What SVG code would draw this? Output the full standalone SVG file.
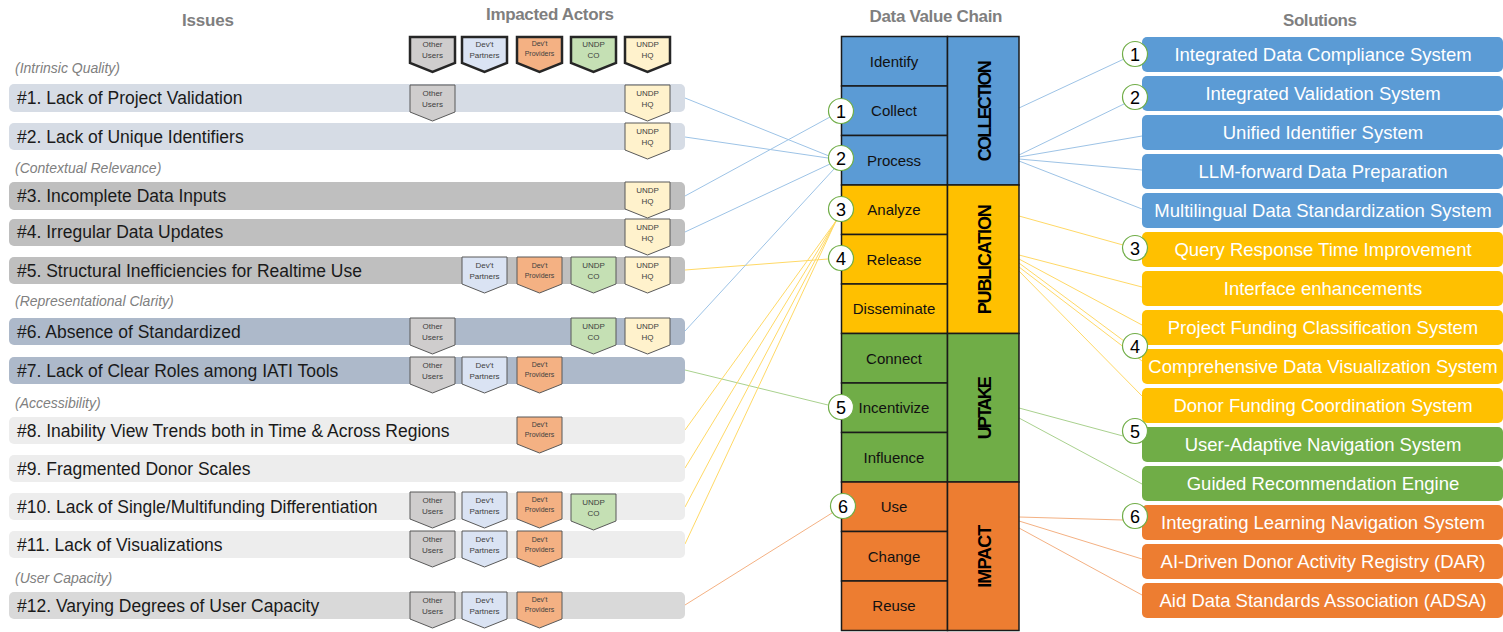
<svg xmlns="http://www.w3.org/2000/svg" width="1503" height="632" viewBox="0 0 1503 632">
<defs>
<style>
.hdr{font-family:"Liberation Sans",Arial,sans-serif;font-weight:bold;font-size:17px;fill:#7f7f7f;text-anchor:middle}
.cat{font-family:"Liberation Sans",Arial,sans-serif;font-style:italic;font-size:14px;fill:#808080}
.itx{font-family:"Liberation Sans",Arial,sans-serif;font-size:17.5px;fill:#1a1a1a}
.bt{font-family:"Liberation Sans",Arial,sans-serif;font-size:8px;fill:#404040;text-anchor:middle}
.bts{font-family:"Liberation Sans",Arial,sans-serif;font-size:7px;fill:#404040;text-anchor:middle}
.bdg{stroke:#595959;stroke-width:1}
.lg{stroke:#262626;stroke-width:2.5}
.o{fill:#cfcdcd}.p{fill:#dae3f3}.pr{fill:#f4b183}.co{fill:#c5e0b4}.hq{fill:#fff2cc}
.step{stroke:#1a1a1a;stroke-width:1.5}
.stx{font-family:"Liberation Sans",Arial,sans-serif;font-size:15px;fill:#111;text-anchor:middle}
.ph{font-family:"Liberation Sans",Arial,sans-serif;font-weight:bold;font-size:18px;fill:#000;text-anchor:middle}
.num{fill:#fff;stroke:#70ad47;stroke-width:1.2}
.ntx{font-family:"Liberation Sans",Arial,sans-serif;font-size:18px;fill:#000;text-anchor:middle}
.sol{font-family:"Liberation Sans",Arial,sans-serif;font-size:18.5px;fill:#fff;text-anchor:middle}
.cb{stroke:#9dc3e6;stroke-width:1;fill:none}
.cy{stroke:#ffd966;stroke-width:1;fill:none}
.cg{stroke:#a9d18e;stroke-width:1;fill:none}
.cr{stroke:#f4b183;stroke-width:1;fill:none}
</style>
<path id="bd" d="M0,0 h45 v27 l-22.5,9 l-22.5,-9 z"/>
<path id="bdl" d="M0,0 h45 v26 l-22.5,9 l-22.5,-9 z"/>
</defs>

<!-- headers -->
<text class="hdr" x="208" y="26" textLength="52">Issues</text>
<text class="hdr" x="550" y="20" textLength="128">Impacted Actors</text>
<text class="hdr" x="936" y="22" textLength="133">Data Value Chain</text>
<text class="hdr" x="1320" y="26" textLength="74">Solutions</text>

<!-- legend -->
<g id="legend">
<use href="#bdl" x="410" y="37" class="o lg"/><text class="bt" x="432.5" y="47">Other</text><text class="bt" x="432.5" y="58">Users</text>
<use href="#bdl" x="462" y="37" class="p lg"/><text class="bt" x="484.5" y="47">Dev't</text><text class="bt" x="484.5" y="58">Partners</text>
<use href="#bdl" x="517" y="37" class="pr lg"/><text class="bts" x="539.5" y="46">Dev't</text><text class="bts" x="539.5" y="56">Providers</text>
<use href="#bdl" x="571" y="37" class="co lg"/><text class="bt" x="593.5" y="47">UNDP</text><text class="bt" x="593.5" y="58">CO</text>
<use href="#bdl" x="625" y="37" class="hq lg"/><text class="bt" x="647.5" y="47">UNDP</text><text class="bt" x="647.5" y="58">HQ</text>
</g>

<!-- category labels -->
<text class="cat" x="15" y="73">(Intrinsic Quality)</text>
<text class="cat" x="15" y="173">(Contextual Relevance)</text>
<text class="cat" x="15" y="306">(Representational Clarity)</text>
<text class="cat" x="15" y="408">(Accessibility)</text>
<text class="cat" x="15" y="583">(User Capacity)</text>

<!-- connectors -->
<g id="connectors">
<line class="cb" x1="685" y1="98" x2="829" y2="156"/>
<line class="cb" x1="685" y1="137" x2="828" y2="158"/>
<line class="cb" x1="685" y1="196" x2="830" y2="117"/>
<line class="cb" x1="685" y1="232" x2="830" y2="164"/>
<line class="cy" x1="685" y1="270" x2="828" y2="259"/>
<line class="cb" x1="685" y1="331" x2="834" y2="169"/>
<line class="cg" x1="685" y1="370" x2="828" y2="405"/>
<line class="cy" x1="685" y1="430" x2="836" y2="221"/>
<line class="cy" x1="685" y1="468" x2="836" y2="221"/>
<line class="cy" x1="685" y1="507" x2="836" y2="221"/>
<line class="cy" x1="685" y1="544" x2="836" y2="221"/>
<line class="cr" x1="685" y1="605" x2="832" y2="513"/>

<line class="cb" x1="1019" y1="108" x2="1124" y2="59"/>
<line class="cb" x1="1019" y1="155" x2="1126" y2="103"/>
<line class="cb" x1="1019" y1="157" x2="1142" y2="136"/>
<line class="cb" x1="1019" y1="159" x2="1142" y2="170"/>
<line class="cb" x1="1019" y1="161" x2="1142" y2="209"/>
<line class="cy" x1="1019" y1="216" x2="1123" y2="245"/>
<line class="cy" x1="1019" y1="255" x2="1142" y2="287"/>
<line class="cy" x1="1019" y1="259" x2="1142" y2="325"/>
<line class="cy" x1="1019" y1="263" x2="1124" y2="341"/>
<line class="cy" x1="1019" y1="267" x2="1142" y2="361"/>
<line class="cy" x1="1019" y1="271" x2="1142" y2="396"/>
<line class="cg" x1="1019" y1="408" x2="1123" y2="436"/>
<line class="cg" x1="1019" y1="418" x2="1142" y2="484"/>
<line class="cr" x1="1019" y1="517" x2="1123" y2="520"/>
<line class="cr" x1="1019" y1="521" x2="1142" y2="559"/>
<line class="cr" x1="1019" y1="528" x2="1142" y2="595"/>
</g>

<!-- issues -->
<g id="issue1"><rect x="9" y="84" width="676" height="28" rx="5" fill="#d6dce5"/><text class="itx" x="17" y="104">#1. Lack of Project Validation</text>
<use href="#bd" x="410" y="85" class="o bdg"/><text class="bt" x="432.5" y="96">Other</text><text class="bt" x="432.5" y="107">Users</text>
<use href="#bd" x="625" y="85" class="hq bdg"/><text class="bt" x="647.5" y="96">UNDP</text><text class="bt" x="647.5" y="107">HQ</text></g>

<g id="issue2"><rect x="9" y="123" width="676" height="27" rx="5" fill="#d6dce5"/><text class="itx" x="17" y="143">#2. Lack of Unique Identifiers</text>
<use href="#bd" x="625" y="123" class="hq bdg"/><text class="bt" x="647.5" y="134">UNDP</text><text class="bt" x="647.5" y="145">HQ</text></g>

<g id="issue3"><rect x="9" y="182" width="676" height="28" rx="5" fill="#bfbfbf"/><text class="itx" x="17" y="202">#3. Incomplete Data Inputs</text>
<use href="#bd" x="625" y="182" class="hq bdg"/><text class="bt" x="647.5" y="193">UNDP</text><text class="bt" x="647.5" y="204">HQ</text></g>

<g id="issue4"><rect x="9" y="219" width="676" height="27" rx="5" fill="#bfbfbf"/><text class="itx" x="17" y="238">#4. Irregular Data Updates</text>
<use href="#bd" x="625" y="219" class="hq bdg"/><text class="bt" x="647.5" y="230">UNDP</text><text class="bt" x="647.5" y="241">HQ</text></g>

<g id="issue5"><rect x="9" y="257" width="676" height="27" rx="5" fill="#bfbfbf"/><text class="itx" x="17" y="277">#5. Structural Inefficiencies for Realtime Use</text>
<use href="#bd" x="462" y="257" class="p bdg"/><text class="bt" x="484.5" y="268">Dev't</text><text class="bt" x="484.5" y="279">Partners</text>
<use href="#bd" x="517" y="257" class="pr bdg"/><text class="bts" x="539.5" y="268">Dev't</text><text class="bts" x="539.5" y="278">Providers</text>
<use href="#bd" x="571" y="257" class="co bdg"/><text class="bt" x="593.5" y="268">UNDP</text><text class="bt" x="593.5" y="279">CO</text>
<use href="#bd" x="625" y="257" class="hq bdg"/><text class="bt" x="647.5" y="268">UNDP</text><text class="bt" x="647.5" y="279">HQ</text></g>

<g id="issue6"><rect x="9" y="318" width="676" height="27" rx="5" fill="#adb9ca"/><text class="itx" x="17" y="338">#6. Absence of Standardized</text>
<use href="#bd" x="410" y="318" class="o bdg"/><text class="bt" x="432.5" y="329">Other</text><text class="bt" x="432.5" y="340">Users</text>
<use href="#bd" x="571" y="318" class="co bdg"/><text class="bt" x="593.5" y="329">UNDP</text><text class="bt" x="593.5" y="340">CO</text>
<use href="#bd" x="625" y="318" class="hq bdg"/><text class="bt" x="647.5" y="329">UNDP</text><text class="bt" x="647.5" y="340">HQ</text></g>

<g id="issue7"><rect x="9" y="357" width="676" height="27" rx="5" fill="#adb9ca"/><text class="itx" x="17" y="377">#7. Lack of Clear Roles among IATI Tools</text>
<use href="#bd" x="410" y="357" class="o bdg"/><text class="bt" x="432.5" y="368">Other</text><text class="bt" x="432.5" y="379">Users</text>
<use href="#bd" x="462" y="357" class="p bdg"/><text class="bt" x="484.5" y="368">Dev't</text><text class="bt" x="484.5" y="379">Partners</text>
<use href="#bd" x="517" y="357" class="pr bdg"/><text class="bts" x="539.5" y="367">Dev't</text><text class="bts" x="539.5" y="377">Providers</text></g>

<g id="issue8"><rect x="9" y="417" width="676" height="27" rx="5" fill="#ededed"/><text class="itx" x="17" y="437">#8. Inability View Trends both in Time &amp; Across Regions</text>
<use href="#bd" x="517" y="417" class="pr bdg"/><text class="bts" x="539.5" y="427">Dev't</text><text class="bts" x="539.5" y="437">Providers</text></g>

<g id="issue9"><rect x="9" y="455" width="676" height="27" rx="5" fill="#ededed"/><text class="itx" x="17" y="475">#9. Fragmented Donor Scales</text></g>

<g id="issue10"><rect x="9" y="493" width="676" height="27" rx="5" fill="#ededed"/><text class="itx" x="17" y="513">#10. Lack of Single/Multifunding Differentiation</text>
<use href="#bd" x="410" y="492" class="o bdg"/><text class="bt" x="432.5" y="503">Other</text><text class="bt" x="432.5" y="514">Users</text>
<use href="#bd" x="462" y="492" class="p bdg"/><text class="bt" x="484.5" y="503">Dev't</text><text class="bt" x="484.5" y="514">Partners</text>
<use href="#bd" x="517" y="492" class="pr bdg"/><text class="bts" x="539.5" y="502">Dev't</text><text class="bts" x="539.5" y="512">Providers</text>
<use href="#bd" x="571" y="494" class="co bdg"/><text class="bt" x="593.5" y="505">UNDP</text><text class="bt" x="593.5" y="516">CO</text></g>

<g id="issue11"><rect x="9" y="531" width="676" height="27" rx="5" fill="#ededed"/><text class="itx" x="17" y="551">#11. Lack of Visualizations</text>
<use href="#bd" x="410" y="531" class="o bdg"/><text class="bt" x="432.5" y="542">Other</text><text class="bt" x="432.5" y="553">Users</text>
<use href="#bd" x="462" y="531" class="p bdg"/><text class="bt" x="484.5" y="542">Dev't</text><text class="bt" x="484.5" y="553">Partners</text>
<use href="#bd" x="517" y="531" class="pr bdg"/><text class="bts" x="539.5" y="542">Dev't</text><text class="bts" x="539.5" y="552">Providers</text></g>

<g id="issue12"><rect x="9" y="592" width="676" height="27" rx="5" fill="#d9d9d9"/><text class="itx" x="17" y="612">#12. Varying Degrees of User Capacity</text>
<use href="#bd" x="410" y="592" class="o bdg"/><text class="bt" x="432.5" y="603">Other</text><text class="bt" x="432.5" y="614">Users</text>
<use href="#bd" x="462" y="592" class="p bdg"/><text class="bt" x="484.5" y="603">Dev't</text><text class="bt" x="484.5" y="614">Partners</text>
<use href="#bd" x="517" y="592" class="pr bdg"/><text class="bts" x="539.5" y="602">Dev't</text><text class="bts" x="539.5" y="612">Providers</text></g>

<!-- data value chain -->
<g id="chain">
<rect class="step" x="841.5" y="36.5" width="106" height="49.5" fill="#5b9bd5"/><text class="stx" x="894" y="66.5">Identify</text>
<rect class="step" x="841.5" y="86" width="106" height="49.5" fill="#5b9bd5"/><text class="stx" x="894" y="116">Collect</text>
<rect class="step" x="841.5" y="135.5" width="106" height="49.5" fill="#5b9bd5"/><text class="stx" x="894" y="165.5">Process</text>
<rect class="step" x="841.5" y="185" width="106" height="49.5" fill="#ffc000"/><text class="stx" x="894" y="215">Analyze</text>
<rect class="step" x="841.5" y="234.5" width="106" height="49.5" fill="#ffc000"/><text class="stx" x="894" y="264.5">Release</text>
<rect class="step" x="841.5" y="284" width="106" height="49.5" fill="#ffc000"/><text class="stx" x="894" y="314">Disseminate</text>
<rect class="step" x="841.5" y="333.5" width="106" height="49.5" fill="#70ad47"/><text class="stx" x="894" y="363.5">Connect</text>
<rect class="step" x="841.5" y="383" width="106" height="49.5" fill="#70ad47"/><text class="stx" x="894" y="413">Incentivize</text>
<rect class="step" x="841.5" y="432.5" width="106" height="49.5" fill="#70ad47"/><text class="stx" x="894" y="462.5">Influence</text>
<rect class="step" x="841.5" y="482" width="106" height="49.5" fill="#ed7d31"/><text class="stx" x="894" y="512">Use</text>
<rect class="step" x="841.5" y="531.5" width="106" height="49.5" fill="#ed7d31"/><text class="stx" x="894" y="561.5">Change</text>
<rect class="step" x="841.5" y="581" width="106" height="49.5" fill="#ed7d31"/><text class="stx" x="894" y="611">Reuse</text>
<rect class="step" x="947.5" y="36.5" width="71.5" height="148.5" fill="#5b9bd5"/>
<rect class="step" x="947.5" y="185" width="71.5" height="148.5" fill="#ffc000"/>
<rect class="step" x="947.5" y="333.5" width="71.5" height="148.5" fill="#70ad47"/>
<rect class="step" x="947.5" y="482" width="71.5" height="148.5" fill="#ed7d31"/>
<text class="ph" transform="translate(991,110.75) rotate(-90)" textLength="101">COLLECTION</text>
<text class="ph" transform="translate(991,259.25) rotate(-90)" textLength="110">PUBLICATION</text>
<text class="ph" transform="translate(991,407.75) rotate(-90)" textLength="63">UPTAKE</text>
<text class="ph" transform="translate(991,556.25) rotate(-90)" textLength="63">IMPACT</text>
</g>

<!-- chain number circles -->
<g id="chain-nums">
<circle class="num" cx="841" cy="111" r="12.5"/><text class="ntx" x="841" y="117.5">1</text>
<circle class="num" cx="841" cy="158" r="12.5"/><text class="ntx" x="841" y="164.5">2</text>
<circle class="num" cx="841" cy="209" r="12.5"/><text class="ntx" x="841" y="215.5">3</text>
<circle class="num" cx="841" cy="258" r="12.5"/><text class="ntx" x="841" y="264.5">4</text>
<circle class="num" cx="841" cy="407" r="12.5"/><text class="ntx" x="841" y="413.5">5</text>
<circle class="num" cx="843" cy="506" r="12.5"/><text class="ntx" x="843" y="512.5">6</text>
</g>

<!-- solutions -->
<g id="solutions">
<rect x="1142" y="37" width="361" height="35" rx="5" fill="#5b9bd5"/><text class="sol" x="1323" y="61">Integrated Data Compliance System</text>
<rect x="1142" y="76" width="361" height="35" rx="5" fill="#5b9bd5"/><text class="sol" x="1323" y="100">Integrated Validation System</text>
<rect x="1142" y="115" width="361" height="35" rx="5" fill="#5b9bd5"/><text class="sol" x="1323" y="139">Unified Identifier System</text>
<rect x="1142" y="154" width="361" height="35" rx="5" fill="#5b9bd5"/><text class="sol" x="1323" y="178">LLM-forward Data Preparation</text>
<rect x="1142" y="193" width="361" height="35" rx="5" fill="#5b9bd5"/><text class="sol" x="1323" y="217">Multilingual Data Standardization System</text>
<rect x="1142" y="232" width="361" height="35" rx="5" fill="#ffc000"/><text class="sol" x="1323" y="256">Query Response Time Improvement</text>
<rect x="1142" y="271" width="361" height="35" rx="5" fill="#ffc000"/><text class="sol" x="1323" y="295">Interface enhancements</text>
<rect x="1142" y="310" width="361" height="35" rx="5" fill="#ffc000"/><text class="sol" x="1323" y="334">Project Funding Classification System</text>
<rect x="1142" y="349" width="361" height="35" rx="5" fill="#ffc000"/><text class="sol" x="1323" y="373">Comprehensive Data Visualization System</text>
<rect x="1142" y="388" width="361" height="35" rx="5" fill="#ffc000"/><text class="sol" x="1323" y="412">Donor Funding Coordination System</text>
<rect x="1142" y="427" width="361" height="35" rx="5" fill="#70ad47"/><text class="sol" x="1323" y="451">User-Adaptive Navigation System</text>
<rect x="1142" y="466" width="361" height="35" rx="5" fill="#70ad47"/><text class="sol" x="1323" y="490">Guided Recommendation Engine</text>
<rect x="1142" y="505" width="361" height="35" rx="5" fill="#ed7d31"/><text class="sol" x="1323" y="529">Integrating Learning Navigation System</text>
<rect x="1142" y="544" width="361" height="35" rx="5" fill="#ed7d31"/><text class="sol" x="1323" y="568">AI-Driven Donor Activity Registry (DAR)</text>
<rect x="1142" y="583" width="361" height="35" rx="5" fill="#ed7d31"/><text class="sol" x="1323" y="607">Aid Data Standards Association (ADSA)</text>
</g>

<g id="solution-nums">
<circle class="num" cx="1135" cy="54" r="12.5"/><text class="ntx" x="1135" y="60.5">1</text>
<circle class="num" cx="1135" cy="97" r="12.5"/><text class="ntx" x="1135" y="103.5">2</text>
<circle class="num" cx="1135" cy="248" r="12.5"/><text class="ntx" x="1135" y="254.5">3</text>
<circle class="num" cx="1135" cy="346" r="12.5"/><text class="ntx" x="1135" y="352.5">4</text>
<circle class="num" cx="1135" cy="431" r="12.5"/><text class="ntx" x="1135" y="437.5">5</text>
<circle class="num" cx="1135" cy="516" r="12.5"/><text class="ntx" x="1135" y="522.5">6</text>
</g>
</svg>
